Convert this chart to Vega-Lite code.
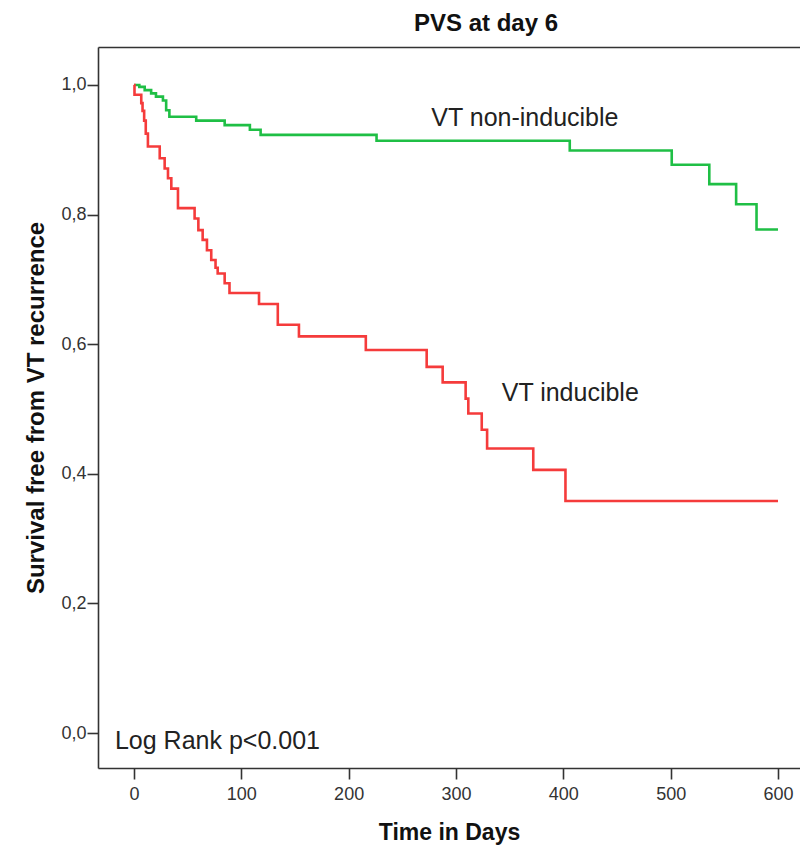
{
  "$schema": "https://vega.github.io/schema/vega-lite/v6.json",
  "autosize": {"type": "none"},
  "width": 702,
  "height": 721,
  "padding": {"left": 98, "top": 47, "right": 0, "bottom": 80},
  "background": "white",
  "title": {"text": "PVS at day 6", "font": "Liberation Sans", "fontSize": 24, "fontWeight": "bold", "color": "#111", "anchor": "middle", "dx": 37, "offset": 11},
  "config": {"view": {"stroke": null}},
  "resolve": {"axis": {"x": "independent"}},
  "datasets": {
    "curves": [
      {"group": "VT non-inducible", "day": 0, "surv": 1.0},
      {"group": "VT non-inducible", "day": 5, "surv": 0.997},
      {"group": "VT non-inducible", "day": 10, "surv": 0.992},
      {"group": "VT non-inducible", "day": 16, "surv": 0.987},
      {"group": "VT non-inducible", "day": 20.5, "surv": 0.982},
      {"group": "VT non-inducible", "day": 27, "surv": 0.976},
      {"group": "VT non-inducible", "day": 30, "surv": 0.961},
      {"group": "VT non-inducible", "day": 33, "surv": 0.951},
      {"group": "VT non-inducible", "day": 58, "surv": 0.945},
      {"group": "VT non-inducible", "day": 84.5, "surv": 0.938},
      {"group": "VT non-inducible", "day": 108, "surv": 0.931},
      {"group": "VT non-inducible", "day": 118, "surv": 0.923},
      {"group": "VT non-inducible", "day": 226, "surv": 0.914},
      {"group": "VT non-inducible", "day": 406, "surv": 0.899},
      {"group": "VT non-inducible", "day": 501, "surv": 0.877},
      {"group": "VT non-inducible", "day": 536, "surv": 0.847},
      {"group": "VT non-inducible", "day": 561, "surv": 0.816},
      {"group": "VT non-inducible", "day": 580, "surv": 0.777},
      {"group": "VT non-inducible", "day": 600, "surv": 0.777},
      {"group": "VT inducible", "day": 0, "surv": 1.0},
      {"group": "VT inducible", "day": 0.5, "surv": 0.985},
      {"group": "VT inducible", "day": 6.8, "surv": 0.972},
      {"group": "VT inducible", "day": 8, "surv": 0.96},
      {"group": "VT inducible", "day": 9.5, "surv": 0.945},
      {"group": "VT inducible", "day": 11, "surv": 0.925},
      {"group": "VT inducible", "day": 13, "surv": 0.905},
      {"group": "VT inducible", "day": 24, "surv": 0.887},
      {"group": "VT inducible", "day": 28.6, "surv": 0.871},
      {"group": "VT inducible", "day": 31.7, "surv": 0.856},
      {"group": "VT inducible", "day": 34.8, "surv": 0.84},
      {"group": "VT inducible", "day": 41, "surv": 0.81},
      {"group": "VT inducible", "day": 56.5, "surv": 0.794},
      {"group": "VT inducible", "day": 60, "surv": 0.776},
      {"group": "VT inducible", "day": 64, "surv": 0.761},
      {"group": "VT inducible", "day": 68, "surv": 0.745},
      {"group": "VT inducible", "day": 72, "surv": 0.73},
      {"group": "VT inducible", "day": 76, "surv": 0.718},
      {"group": "VT inducible", "day": 78, "surv": 0.709},
      {"group": "VT inducible", "day": 84.5, "surv": 0.694},
      {"group": "VT inducible", "day": 89, "surv": 0.679},
      {"group": "VT inducible", "day": 116.5, "surv": 0.662},
      {"group": "VT inducible", "day": 134, "surv": 0.63},
      {"group": "VT inducible", "day": 153.7, "surv": 0.612},
      {"group": "VT inducible", "day": 216, "surv": 0.591},
      {"group": "VT inducible", "day": 272.7, "surv": 0.565},
      {"group": "VT inducible", "day": 287.6, "surv": 0.541},
      {"group": "VT inducible", "day": 309, "surv": 0.516},
      {"group": "VT inducible", "day": 311.5, "surv": 0.493},
      {"group": "VT inducible", "day": 324, "surv": 0.468},
      {"group": "VT inducible", "day": 329, "surv": 0.439},
      {"group": "VT inducible", "day": 372, "surv": 0.406},
      {"group": "VT inducible", "day": 402, "surv": 0.358},
      {"group": "VT inducible", "day": 600, "surv": 0.358}
    ],
    "labels": [
      {"label": "VT non-inducible", "day": 277, "surv": 0.949},
      {"label": "VT inducible", "day": 342.6, "surv": 0.525},
      {"label": "Log Rank p<0.001", "day": -17.7, "surv": -0.013}
    ]
  },
  "layer": [
    {
      "data": {"name": "curves"},
      "mark": {"type": "line", "interpolate": "step-after", "strokeWidth": 2.6, "clip": true},
      "encoding": {
        "x": {"field": "day", "type": "quantitative",
              "scale": {"domain": [-33.5, 620.5], "nice": false, "zero": false},
              "axis": {"title": "Time in Days", "values": [0, 100, 200, 300, 400, 500, 600], "grid": false,
                       "domain": true, "domainColor": "#333", "domainWidth": 1.6,
                       "tickSize": 11, "tickColor": "#333", "tickWidth": 1.6, "labelPadding": 6,
                       "labelFont": "Liberation Sans", "labelFontSize": 18, "labelColor": "#333",
                       "titleFont": "Liberation Sans", "titleFontSize": 23, "titleFontWeight": "bold", "titleColor": "#111",
                       "titlePadding": 18, "titleAnchor": "middle"}},
        "y": {"field": "surv", "type": "quantitative",
              "scale": {"domain": [-0.054, 1.0586], "nice": false, "zero": false},
              "axis": {"title": "Survival free from VT recurrence", "values": [0, 0.2, 0.4, 0.6, 0.8, 1.0], "grid": false,
                       "domain": true, "domainColor": "#333", "domainWidth": 1.6,
                       "labelExpr": "replace(format(datum.value, '.1f'), '.', ',')",
                       "tickSize": 11, "tickColor": "#333", "tickWidth": 1.6, "labelPadding": 1,
                       "labelFont": "Liberation Sans", "labelFontSize": 18, "labelColor": "#333",
                       "titleFont": "Liberation Sans", "titleFontSize": 24, "titleFontWeight": "bold", "titleColor": "#111",
                       "titlePadding": 12}},
        "color": {"field": "group", "type": "nominal",
                  "scale": {"domain": ["VT non-inducible", "VT inducible"], "range": ["#1fbf45", "#f53b3b"]},
                  "legend": null}
      }
    },
    {
      "data": {"name": "labels"},
      "mark": {"type": "text", "align": "left", "baseline": "middle", "font": "Liberation Sans", "fontSize": 25, "color": "#222"},
      "encoding": {
        "x": {"field": "day", "type": "quantitative",
              "axis": {"orient": "top", "title": null, "labels": false, "ticks": false, "grid": false,
                       "domain": true, "domainColor": "#333", "domainWidth": 1.6}},
        "y": {"field": "surv", "type": "quantitative"},
        "text": {"field": "label"}
      }
    }
  ]
}
